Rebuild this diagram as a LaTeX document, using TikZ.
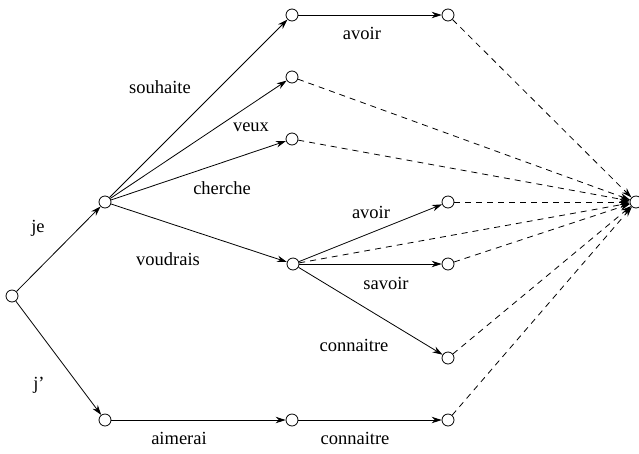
\documentclass[tikz,border=0pt]{standalone}
\usepackage{fontspec}
\setmainfont{Liberation Serif}
\usetikzlibrary{arrows.meta}
\begin{document}
\begin{tikzpicture}[x=1pt,y=-1pt,
  st/.style={circle,draw,line width=0.8pt,minimum size=12pt,inner sep=0pt},
  lab/.style={font=\fontsize{18.5}{22}\selectfont,inner sep=0pt},
  tr/.style={line width=0.8pt,-{Stealth[length=10pt,width=6.5pt]}},
  ep/.style={tr,dashed,dash pattern=on 6pt off 5pt}]
\useasboundingbox (0,0) rectangle (639,453);
\node[st] (n0) at (12,296) {};
\node[st] (n1) at (105,202) {};
\node[st] (n2) at (105,420) {};
\node[st] (n3) at (292,15) {};
\node[st] (n4) at (448,15) {};
\node[st] (n5) at (292,77) {};
\node[st] (n6) at (292,139) {};
\node[st] (n7) at (293,264) {};
\node[st] (n8) at (448,202) {};
\node[st] (n9) at (448,264) {};
\node[st] (n10) at (448,358) {};
\node[st] (n11) at (292,420) {};
\node[st] (n12) at (448,420) {};
\node[st] (f) at (636,202) {};
\draw[tr] (n0) -- (n1);
\draw[tr] (n0) -- (n2);
\draw[tr] (n1) -- (n3);
\draw[tr] (n1) -- (n5);
\draw[tr] (n1) -- (n6);
\draw[tr] (n1) -- (n7);
\draw[tr] (n3) -- (n4);
\draw[tr] (n7) -- (n8);
\draw[tr] (n7) -- (n9);
\draw[tr] (n7) -- (n10);
\draw[tr] (n2) -- (n11);
\draw[tr] (n11) -- (n12);
\foreach \s in {n4,n5,n6,n8,n7,n9,n10,n12} \draw[ep] (\s) -- (f);
\node[lab] (l1) at (38,228) {je};
\node[lab] (l2) at (39,385) {j'};
\node[lab] (l3) at (160,87) {souhaite};
\node[lab] (l4) at (251,127) {veux};
\node[lab] (l5) at (222,188) {cherche};
\node[lab] (l6) at (168,259) {voudrais};
\node[lab] (l7) at (362,33) {avoir};
\node[lab] (l8) at (371,212) {avoir};
\node[lab] (l9) at (386,283) {savoir};
\node[lab] (l10) at (354,345) {connaitre};
\node[lab] (l11) at (179,438) {aimerai};
\node[lab] (l12) at (355,438) {connaitre};
\end{tikzpicture}
\end{document}
